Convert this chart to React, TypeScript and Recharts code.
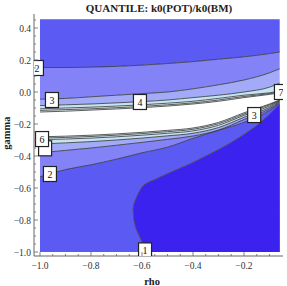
import {
  ComposedChart,
  Area,
  Line,
  Scatter,
  XAxis,
  YAxis,
  CartesianGrid,
} from "recharts";

// rho grid for the contour lines
const rho = [-1, -0.9, -0.8, -0.7, -0.6, -0.5, -0.4, -0.3, -0.2, -0.1, -0.06];

// upper group of contours (levels 2..7 going down)
const c2Up = [0.153, 0.153, 0.155, 0.16, 0.168, 0.178, 0.19, 0.205, 0.22, 0.24, 0.25];
const c3Up = [-0.045, -0.04, -0.03, -0.02, -0.01, 0.0, 0.02, 0.045, 0.075, 0.12, 0.145];
const c4Up = [-0.085, -0.08, -0.075, -0.068, -0.06, -0.05, -0.035, -0.02, 0.0, 0.03, 0.055];
const c5Up = [-0.105, -0.1, -0.095, -0.088, -0.08, -0.07, -0.058, -0.04, -0.02, -0.005, 0.005];
const c6Up = [-0.115, -0.11, -0.105, -0.098, -0.09, -0.08, -0.068, -0.05, -0.028, -0.01, 0.0];
const c7Up = [-0.125, -0.12, -0.113, -0.106, -0.098, -0.088, -0.075, -0.058, -0.035, -0.015, -0.005];

// lower group of contours (levels 7..2 going down)
const c7Lo = [-0.28, -0.276, -0.27, -0.262, -0.252, -0.24, -0.225, -0.19, -0.13, -0.075, -0.05];
const c6Lo = [-0.288, -0.284, -0.278, -0.27, -0.26, -0.248, -0.233, -0.198, -0.138, -0.08, -0.053];
const c5Lo = [-0.298, -0.294, -0.288, -0.28, -0.27, -0.258, -0.243, -0.208, -0.146, -0.087, -0.056];
const c4Lo = [-0.325, -0.318, -0.31, -0.3, -0.288, -0.274, -0.258, -0.222, -0.158, -0.096, -0.06];
const c3Lo = [-0.38, -0.365, -0.35, -0.333, -0.315, -0.296, -0.275, -0.238, -0.172, -0.105, -0.065];
const c2Lo = [-0.53, -0.485, -0.455, -0.42, -0.38, -0.345, -0.29, -0.24, -0.19, -0.115, -0.07];

const gammaTop = 0.455;
const gammaBottom = -1.0;

// level-1 region (lower right), lower and upper branch of its boundary
const darkX = [-0.635, -0.632, -0.625, -0.615, -0.605, -0.595, -0.588, -0.57, -0.55, -0.5, -0.45, -0.4, -0.35, -0.3, -0.25, -0.2, -0.15, -0.1, -0.06];
const darkLow = [-0.75, -0.8, -0.85, -0.885, -0.92, -0.96, -1.0, -1.0, -1.0, -1.0, -1.0, -1.0, -1.0, -1.0, -1.0, -1.0, -1.0, -1.0, -1.0];
const darkHigh = [-0.73, -0.7, -0.67, -0.635, -0.605, -0.585, -0.575, -0.56, -0.547, -0.51, -0.475, -0.44, -0.4, -0.36, -0.315, -0.265, -0.21, -0.14, -0.075];

// contour labels
const labelText = ["2", "3", "4", "7", "3", "", "6", "2", "1"];
const labelRho = [-1.012, -0.953, -0.608, -0.055, -0.16, -0.98, -0.992, -0.961, -0.588];
const labelGamma = [0.15, -0.05, -0.0625, 0.0, -0.144, -0.352, -0.294, -0.5125, -0.99];

const xTicks = [-1, -0.95, -0.9, -0.85, -0.8, -0.75, -0.7, -0.65, -0.6, -0.55, -0.5, -0.45, -0.4, -0.35, -0.3, -0.25, -0.2, -0.15, -0.1];
const yTicks = [-1, -0.95, -0.9, -0.85, -0.8, -0.75, -0.7, -0.65, -0.6, -0.55, -0.5, -0.45, -0.4, -0.35, -0.3, -0.25, -0.2, -0.15, -0.1, -0.05, 0, 0.05, 0.1, 0.15, 0.2, 0.25, 0.3, 0.35, 0.4, 0.45];

const table = rho.map((x, i) => ({
  x,
  top: gammaTop,
  bottom: gammaBottom,
  c2Up: c2Up[i],
  c3Up: c3Up[i],
  c4Up: c4Up[i],
  c5Up: c5Up[i],
  c6Up: c6Up[i],
  c7Up: c7Up[i],
  c7Lo: c7Lo[i],
  c6Lo: c6Lo[i],
  c5Lo: c5Lo[i],
  c4Lo: c4Lo[i],
  c3Lo: c3Lo[i],
  c2Lo: c2Lo[i],
}));

const darkArea = darkX.map((x, i) => ({ x, lo: darkLow[i], hi: darkHigh[i] }));
// boundary of the level-1 region: lower branch backwards, then upper branch
const darkEdge = [
  ...darkX
    .map((x, i) => ({ x, y: darkLow[i] }))
    .filter((p) => p.y > -1)
    .reverse(),
  ...darkX.map((x, i) => ({ x, y: darkHigh[i] })),
];
const labels = labelText.map((t, i) => ({ x: labelRho[i], y: labelGamma[i], t }));

const MED = "#5b5bf4";
const LAV = "#8383f7";
const PERI = "#a3abf8";
const CYAN = "#c4e4f3";
const PALE = "#e2f2f7";
const DARK = "#3b22ef";

const bands = [
  { lo: "c2Up", hi: "top", fill: MED },
  { lo: "c3Up", hi: "c2Up", fill: LAV },
  { lo: "c4Up", hi: "c3Up", fill: PERI },
  { lo: "c5Up", hi: "c4Up", fill: CYAN },
  { lo: "c7Up", hi: "c5Up", fill: PALE },
  { lo: "c7Lo", hi: "c7Up", fill: "#ffffff" },
  { lo: "c5Lo", hi: "c7Lo", fill: PALE },
  { lo: "c4Lo", hi: "c5Lo", fill: CYAN },
  { lo: "c3Lo", hi: "c4Lo", fill: PERI },
  { lo: "c2Lo", hi: "c3Lo", fill: LAV },
  { lo: "bottom", hi: "c2Lo", fill: MED },
];

const contourKeys = ["c2Up", "c3Up", "c4Up", "c5Up", "c6Up", "c7Up", "c7Lo", "c6Lo", "c5Lo", "c4Lo", "c3Lo", "c2Lo"];

const serif = "'Liberation Serif', 'DejaVu Serif', serif";
const frame = "#666";

const isMajor = (v: number) => Math.abs(v * 5 - Math.round(v * 5)) < 1e-6;
const fmt = (v: number) => v.toFixed(1).replace("-", "\u2212");

const makeXTick = (side: string) => (props: any) => {
  const { x, y, payload } = props;
  const v = payload.value;
  const len = isMajor(v) ? 4 : 2;
  const dir = side === "bottom" ? -1 : 1;
  return (
    <g>
      <line x1={x} y1={y} x2={x} y2={y + dir * len} stroke={frame} strokeWidth={0.8} />
      {side === "bottom" && isMajor(v) && (
        <text x={x} y={y + 13} textAnchor="middle" fontSize={9.5} fontFamily={serif} fill="#333">
          {fmt(v)}
        </text>
      )}
    </g>
  );
};

const makeYTick = (side: string) => (props: any) => {
  const { x, y, payload } = props;
  const v = payload.value;
  const len = isMajor(v) ? 4 : 2;
  const dir = side === "left" ? 1 : -1;
  return (
    <g>
      <line x1={x} y1={y} x2={x + dir * len} y2={y} stroke={frame} strokeWidth={0.8} />
      {side === "left" && isMajor(v) && (
        <text x={x - 3} y={y + 3.5} textAnchor="end" fontSize={9.5} fontFamily={serif} fill="#333">
          {fmt(v)}
        </text>
      )}
    </g>
  );
};

const LabelBox = (props: any) => {
  const { cx, cy, payload } = props;
  return (
    <g>
      <rect x={cx - 6.5} y={cy - 7.5} width={13} height={15} fill="#fff" stroke="#222" strokeWidth={1.2} />
      <text x={cx} y={cy + 3.5} textAnchor="middle" fontSize={10} fontFamily={serif} fill="#111">
        {payload.t}
      </text>
    </g>
  );
};

export default function App() {
  return (
    <div style={{ position: "absolute", left: 0, top: 0, width: 287, height: 286, background: "#fff" }}>
      <ComposedChart
        width={287}
        height={286}
        data={table}
        margin={{ top: 14, right: 4, bottom: 0, left: 0 }}
      >
        <XAxis
          type="number"
          dataKey="x"
          domain={[-1.0235, -0.047]}
          allowDataOverflow
          ticks={xTicks}
          interval={0}
          height={30}
          tickSize={0}
          tickMargin={0}
          tickLine={false}
          axisLine={{ stroke: frame }}
          tick={makeXTick("bottom")}
        />
        <XAxis
          xAxisId="top"
          orientation="top"
          type="number"
          dataKey="x"
          domain={[-1.0235, -0.047]}
          allowDataOverflow
          ticks={xTicks}
          interval={0}
          height={0}
          tickSize={0}
          tickMargin={0}
          tickLine={false}
          axisLine={{ stroke: frame }}
          tick={makeXTick("top")}
        />
        <YAxis
          type="number"
          domain={[-1.025, 0.4875]}
          allowDataOverflow
          ticks={yTicks}
          interval={0}
          width={34}
          tickSize={0}
          tickMargin={0}
          tickLine={false}
          axisLine={{ stroke: frame }}
          tick={makeYTick("left")}
        />
        <YAxis
          yAxisId="right"
          orientation="right"
          type="number"
          domain={[-1.025, 0.4875]}
          allowDataOverflow
          ticks={yTicks}
          interval={0}
          width={0}
          tickSize={0}
          tickMargin={0}
          tickLine={false}
          axisLine={{ stroke: frame }}
          tick={makeYTick("right")}
        />

        {bands.map((b) => (
          <Area
            key={b.lo + b.hi}
            type="monotone"
            dataKey={(d: any) => [d[b.lo], d[b.hi]]}
            stroke="none"
            fill={b.fill}
            fillOpacity={1}
            isAnimationActive={false}
          />
        ))}
        <Area
          data={darkArea}
          type="linear"
          dataKey={(d: any) => [d.lo, d.hi]}
          stroke="none"
          fill={DARK}
          fillOpacity={1}
          isAnimationActive={false}
        />

        <CartesianGrid
          stroke="rgba(255,255,255,0.12)"
          horizontalValues={[-0.9, -0.8, -0.7, -0.6, -0.5, -0.4, -0.3, -0.2, -0.1, 0, 0.1, 0.2, 0.3, 0.4]}
          verticalValues={[-0.9, -0.8, -0.7, -0.6, -0.5, -0.4, -0.3, -0.2, -0.1]}
        />

        {contourKeys.map((k) => (
          <Line
            key={k}
            type="monotone"
            dataKey={k}
            stroke="#333"
            strokeWidth={0.8}
            dot={false}
            isAnimationActive={false}
          />
        ))}
        <Line
          data={darkEdge}
          dataKey="y"
          type="linear"
          stroke="#555"
          strokeWidth={0.9}
          dot={false}
          isAnimationActive={false}
        />

        <Scatter data={labels} dataKey="y" shape={LabelBox} isAnimationActive={false} />

        <text x={159} y={12} textAnchor="middle" fontSize={11} fontWeight="bold" fontFamily={serif} fill="#222">
          QUANTILE: k0(POT)/k0(BM)
        </text>
        <text x={152} y={285} textAnchor="middle" fontSize={10.5} fontWeight="bold" fontFamily={serif} fill="#222">
          rho
        </text>
        <text
          x={10}
          y={133}
          textAnchor="middle"
          fontSize={10.5}
          fontWeight="bold"
          fontFamily={serif}
          fill="#222"
          transform="rotate(-90 10 133)"
        >
          gamma
        </text>
      </ComposedChart>
    </div>
  );
}
